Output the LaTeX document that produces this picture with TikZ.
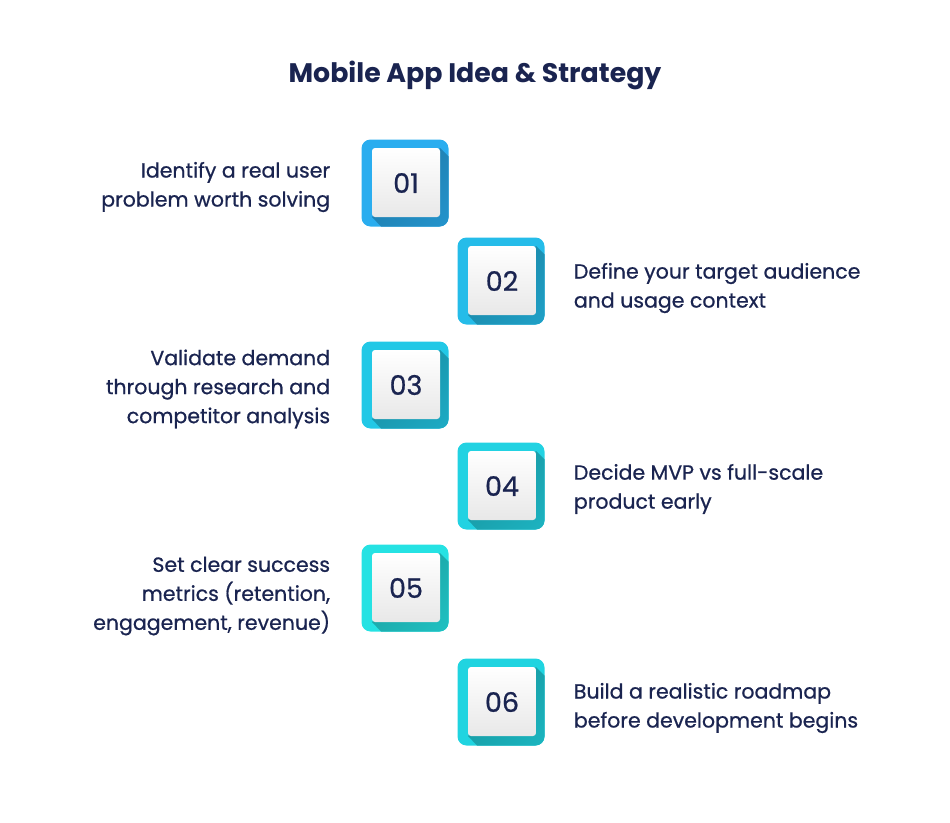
\documentclass[tikz,border=0pt]{standalone}
\usepackage{fontspec}
\setmainfont{Poppins}
\newfontfamily\medfont{Poppins}[FakeBold=0.7]
\usetikzlibrary{positioning}

\definecolor{navy}{HTML}{1A2450}
\definecolor{stepA}{HTML}{2AADEF}
\definecolor{stepB}{HTML}{25BCE9}
\definecolor{stepC}{HTML}{22C8E6}
\definecolor{stepD}{HTML}{22D2E2}
\definecolor{stepE}{HTML}{25E2E3}
\definecolor{stepF}{HTML}{20D4E0}

\tikzset{
  numbox/.style={minimum size=87, inner sep=0, rounded corners=9, fill=#1},
  numtext/.style={text=navy, font=\medfont\fontsize{27}{27}\selectfont},
  leftlabel/.style={align=right, text=navy, font=\medfont\fontsize{20.5}{29}\selectfont, inner sep=0},
  rightlabel/.style={align=left, text=navy, font=\medfont\fontsize{20.5}{29}\selectfont, inner sep=0}
}

\begin{document}
\begin{tikzpicture}[x=1pt,y=-1pt]
  \useasboundingbox (0,0) rectangle (950,822);

  \node[text=navy, font=\bfseries\fontsize{26.8}{30}\selectfont] (title) at (475,75) {Mobile App Idea \& Strategy};

  % boxes
  \foreach \n/\cx/\cy/\col in {01/405/183/stepA, 02/501/281/stepB, 03/405/385/stepC,
                               04/501/486/stepD, 05/405/588/stepE, 06/501/702/stepF}{
    \node[numbox=\col] (b\n) at (\cx,\cy) {};
    \begin{scope}[shift={(\cx,\cy)}]
      \clip[rounded corners=9] (-43.5,-43.5) rectangle (43.5,43.5);
      \shade[left color=\col!72!black, right color=\col!92!black, shading angle=45]
        (35,-35) -- (90,20) -- (90,90) -- (20,90) -- (-33,34) -- cycle; % shadow
    \end{scope}
    \shade[top color=white, bottom color=black!9, rounded corners=3]
      ([shift={(-33,-35)}]b\n.center) rectangle ([shift={(35,34)}]b\n.center); % card
    \node[numtext] (n\n) at ([shift={(1,0)}]b\n.center) {\n};
  }

  % labels
  \node[leftlabel, left=31 of b01, yshift=-4] (t01) {Identify a real user\\problem worth solving};
  \node[rightlabel, right=29 of b02, yshift=-7] (t02) {Define your target audience\\and usage context};
  \node[leftlabel, left=31 of b03, yshift=-4] (t03) {Validate demand\\through research and\\competitor analysis};
  \node[rightlabel, right=29 of b04, yshift=-3] (t04) {Decide MVP vs full-scale\\product early};
  \node[leftlabel, left=31 of b05, yshift=-8] (t05) {Set clear success\\metrics (retention,\\engagement, revenue)};
  \node[rightlabel, right=29 of b06, yshift=-6] (t06) {Build a realistic roadmap\\before development begins};
\end{tikzpicture}
\end{document}
